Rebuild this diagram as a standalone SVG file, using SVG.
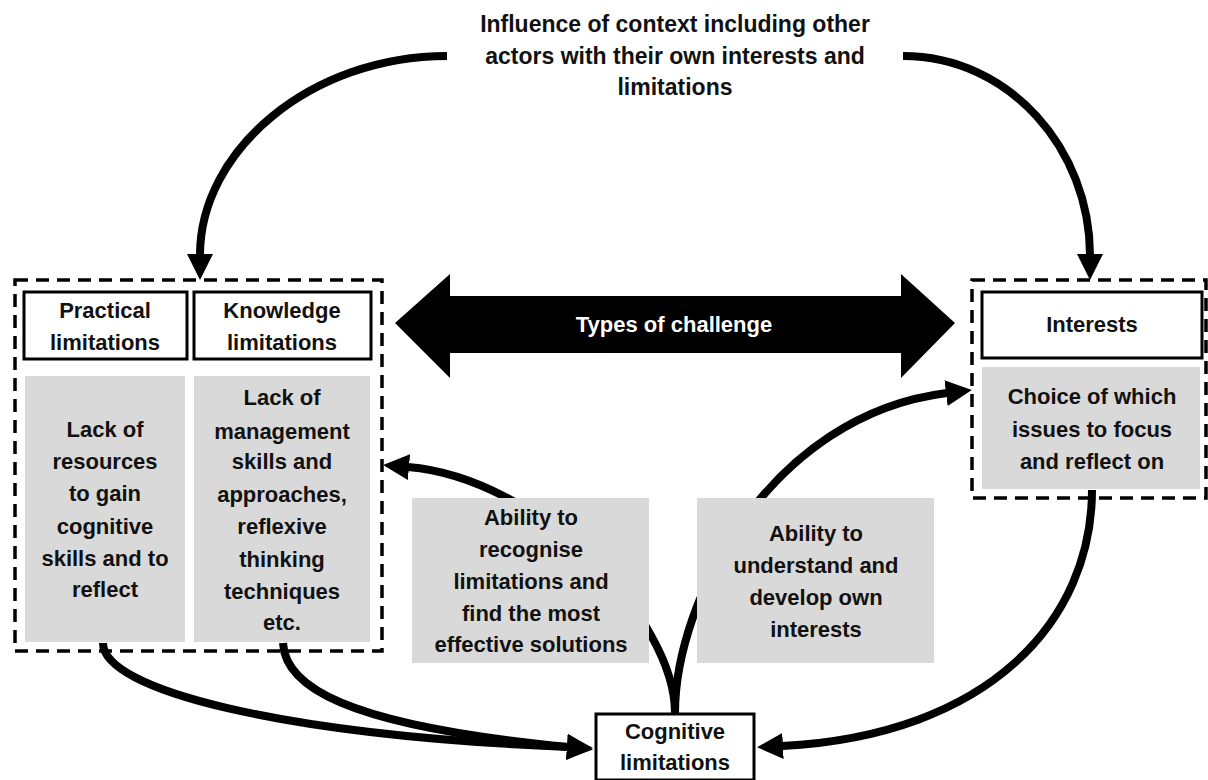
<svg xmlns="http://www.w3.org/2000/svg" width="1208" height="780" viewBox="0 0 1208 780">
<style>
text{font-family:"Liberation Sans",Arial,sans-serif;font-weight:bold;font-size:22px;fill:#111;text-anchor:middle}
.dash{fill:none;stroke:#000;stroke-width:3.5;stroke-dasharray:13 8}
.hdr{fill:#fff;stroke:#000;stroke-width:3}
.gray{fill:#d9d9d9;stroke:none}
.conn{fill:none;stroke:#000;stroke-width:8;marker-end:url(#ah)}
.wt{fill:#fff}
</style>
<defs>
<marker id="ah" markerUnits="userSpaceOnUse" markerWidth="26" markerHeight="26" viewBox="0 0 26 26" refX="1" refY="13" orient="auto">
<path d="M0,0 L26,13 L0,26 z" fill="#000"/>
</marker>
</defs>
<rect width="1208" height="780" fill="#fff"/>
<g id="connectors">
<path class="conn" d="M447,56 C311,56 200,150 200,255"/>
<path class="conn" d="M903,56 C1010,56 1090,150 1090,255"/>
<path class="conn" d="M675,713 C675,620 540,478 408,467"/>
<path class="conn" d="M675,713 C675,600 770,415 947,393"/>
<path class="conn" d="M103,643 C103,690 280,735 568,747"/>
<path class="conn" d="M283,643 C285,685 340,725 568,747"/>
<path class="conn" d="M1092,490 C1092,620 990,735 782,746"/>
</g>
<g id="context">
<text x="675" y="32" style="font-size:23px">Influence of context including other</text>
<text x="675" y="64" style="font-size:23px">actors with their own interests and</text>
<text x="675" y="95" style="font-size:23px">limitations</text>
</g>
<g id="limitations-group">
<rect class="dash" x="15" y="280" width="367" height="371"/>
</g>
<g id="practical-limitations">
<rect class="hdr" x="24" y="292" width="163" height="67"/>
<text x="105" y="318">Practical</text>
<text x="105" y="350">limitations</text>
</g>
<g id="knowledge-limitations">
<rect class="hdr" x="194" y="292" width="177" height="67"/>
<text x="282" y="318">Knowledge</text>
<text x="282" y="350">limitations</text>
</g>
<g id="lack-resources">
<rect class="gray" x="25" y="376" width="160" height="266"/>
<text x="105" y="437">Lack of</text>
<text x="105" y="469">resources</text>
<text x="105" y="501">to gain</text>
<text x="105" y="534">cognitive</text>
<text x="105" y="566">skills and to</text>
<text x="105" y="597">reflect</text>
</g>
<g id="lack-management">
<rect class="gray" x="194" y="376" width="176" height="266"/>
<text x="282" y="405">Lack of</text>
<text x="282" y="439">management</text>
<text x="282" y="469">skills and</text>
<text x="282" y="502">approaches,</text>
<text x="282" y="534">reflexive</text>
<text x="282" y="567">thinking</text>
<text x="282" y="599">techniques</text>
<text x="282" y="630">etc.</text>
</g>
<g id="types-of-challenge">
<polygon points="395,323 450,274 450,296 901,296 901,274 955,323 901,378 901,353 450,353 450,378" fill="#000"/>
<text class="wt" x="674" y="332">Types of challenge</text>
</g>
<g id="interests-group">
<rect class="dash" x="972" y="280" width="234" height="218"/>
</g>
<g id="interests">
<rect class="hdr" x="982" y="292" width="220" height="66"/>
<text x="1092" y="332">Interests</text>
</g>
<g id="choice-issues">
<rect class="gray" x="982" y="367" width="218" height="122"/>
<text x="1092" y="404">Choice of which</text>
<text x="1092" y="437">issues to focus</text>
<text x="1092" y="469">and reflect on</text>
</g>
<g id="ability-recognise">
<rect class="gray" x="412" y="498" width="237" height="165"/>
<text x="531" y="525">Ability to</text>
<text x="531" y="557">recognise</text>
<text x="531" y="589">limitations and</text>
<text x="531" y="621">find the most</text>
<text x="531" y="652">effective solutions</text>
</g>
<g id="ability-understand">
<rect class="gray" x="697" y="498" width="237" height="165"/>
<text x="816" y="541">Ability to</text>
<text x="816" y="573">understand and</text>
<text x="816" y="605">develop own</text>
<text x="816" y="637">interests</text>
</g>
<g id="cognitive-limitations">
<rect class="hdr" x="596" y="714" width="158" height="66"/>
<text x="675" y="739">Cognitive</text>
<text x="675" y="770">limitations</text>
</g>
</svg>
